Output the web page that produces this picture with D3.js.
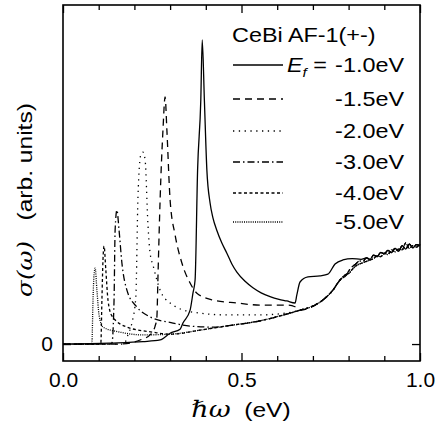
<!DOCTYPE html>
<head>
	<meta charset="utf-8">
	<script src="https://d3js.org/d3.v7.min.js"></script>
	<style>
		body { margin: 0; background: #fff; }
		text { font-family: "Liberation Sans", Arial, sans-serif; fill: #000; }
	</style>
</head>
<body>
	<svg id="chart" width="435" height="432"></svg>
	<script>

	// ---- data (x in eV, sigma in arb. units) ----
	// shared noisy high-energy tails
	var tailA = [[0.80,2.15],[0.81,2.28],[0.82,2.36],[0.83,2.45],[0.84,2.44],[0.85,2.54],[0.86,2.50],[0.87,2.62],[0.88,2.58],[0.89,2.70],[0.90,2.66],[0.91,2.76],[0.92,2.70],[0.93,2.82],[0.94,2.74],[0.95,2.90],[0.96,2.80],[0.97,2.95],[0.98,2.84],[0.99,2.93],[1.00,2.90]];
	var tailB = [[0.80,2.08],[0.81,2.20],[0.82,2.30],[0.83,2.36],[0.84,2.40],[0.85,2.44],[0.86,2.48],[0.87,2.52],[0.88,2.60],[0.89,2.58],[0.90,2.68],[0.91,2.64],[0.92,2.78],[0.93,2.72],[0.94,2.80],[0.95,2.78],[0.96,2.98],[0.97,2.82],[0.98,2.90],[0.99,2.86],[1.00,2.95]];
	// common background after the peaks have merged
	var background = [[0.30,0.29],[0.384,0.41],[0.42,0.47],[0.476,0.56],[0.55,0.68],[0.608,0.83],[0.664,1.00],[0.706,1.15],[0.728,1.30],[0.756,1.59],[0.776,1.89],[0.796,2.07]];

	var ef10 = [[0,0],[0.13,0.03],[0.224,0.07],[0.272,0.12],[0.30,0.32],[0.328,0.44],[0.336,0.62],[0.356,1.00],[0.364,1.50],[0.370,1.89],[0.377,5.13],[0.386,7.20],[0.390,8.97],[0.396,7.20],[0.403,5.13],[0.412,4.16],[0.420,3.72],[0.431,3.35],[0.445,2.98],[0.459,2.68],[0.473,2.36],[0.487,2.12],[0.510,1.85],[0.532,1.66],[0.555,1.51],[0.580,1.40],[0.605,1.32],[0.627,1.27],[0.650,1.21],[0.655,1.45],[0.664,1.83],[0.686,1.98],[0.720,2.01],[0.742,2.06],[0.762,2.36],[0.784,2.48],[0.810,2.52],[0.835,2.50]];
	var ef15 = [[0,0],[0.16,0],[0.216,0.12],[0.244,0.27],[0.258,0.53],[0.263,0.80],[0.266,1.98],[0.272,4.25],[0.280,6.31],[0.286,7.29],[0.291,6.31],[0.300,4.25],[0.314,3.22],[0.333,2.39],[0.356,1.80],[0.375,1.50],[0.420,1.30],[0.487,1.21],[0.552,1.15],[0.627,1.15],[0.650,1.10]];
	var ef20 = [[0,0],[0.17,0],[0.182,0.27],[0.193,0.62],[0.204,1.39],[0.210,4.34],[0.218,5.58],[0.224,5.66],[0.230,5.43],[0.238,3.51],[0.244,2.68],[0.252,2.33],[0.272,1.59],[0.300,1.21],[0.364,0.94],[0.459,0.86],[0.552,0.86],[0.622,0.91],[0.664,1.00]];
	var ef30 = [[0,0],[0.13,0],[0.137,0.03],[0.143,1.30],[0.146,3.36],[0.151,3.95],[0.157,3.36],[0.165,2.39],[0.179,1.59],[0.207,1.09],[0.244,0.80],[0.308,0.62],[0.356,0.53],[0.42,0.50]];
	var ef40 = [[0,0],[0.098,0],[0.106,0.03],[0.109,1.30],[0.112,2.48],[0.115,2.89],[0.120,2.18],[0.126,1.30],[0.137,0.83],[0.179,0.50],[0.252,0.35],[0.30,0.29]];
	var ef50 = [[0,0],[0.075,0],[0.081,0.03],[0.084,1.30],[0.087,2.04],[0.090,2.24],[0.095,1.59],[0.101,0.86],[0.112,0.50],[0.160,0.35],[0.224,0.27],[0.30,0.29]];

	var labels = ["-1.0eV", "-1.5eV", "-2.0eV", "-3.0eV", "-4.0eV", "-5.0eV"];
	var dashes = [null, "7,5", "1.3,4.5", "7,3,1.5,3", "3,2.5", "1,1.2"];
	var xMajor = [0, 0.5, 1.0];
	var xMinor = [0.1, 0.2, 0.3, 0.4, 0.6, 0.7, 0.8, 0.9];

	var series = [
		ef10.concat(tailA.filter(function(p){ return p[0] > 0.84; })),
		ef15.concat(background.filter(function(p){ return p[0] > 0.66; }), tailA),
		ef20.concat(background.filter(function(p){ return p[0] > 0.67; }), tailB),
		ef30.concat(background.filter(function(p){ return p[0] > 0.43; }), tailA),
		ef40.concat(background.filter(function(p){ return p[0] > 0.31; }), tailB),
		ef50.concat(background.filter(function(p){ return p[0] > 0.31; }), tailB)
	];

	// ---- layout ----
	var svg = d3.select("#chart");
	var plotL = 63, plotR = 420, plotT = 5, plotB = 361;
	var stretch = 1.17; // the original lettering is wider than Liberation Sans

	var x = d3.scaleLinear().domain([0, 1]).range([plotL, plotR]);
	var y = d3.scaleLinear().domain([-0.5, 10]).range([plotB, plotT]);

	var line = d3.line()
		.curve(d3.curveMonotoneX)
		.x(function(d) { return x(d[0]); })
		.y(function(d) { return y(d[1]); });

	svg.append("g").selectAll("path")
		.data(series)
		.enter()
		.append("path")
		.attr("d", line)
		.attr("fill", "none")
		.attr("stroke", "#000")
		.attr("stroke-width", 1.3)
		.attr("stroke-dasharray", function(d, i) { return dashes[i]; });

	// frame
	svg.append("rect")
		.attr("x", plotL).attr("y", plotT)
		.attr("width", plotR - plotL).attr("height", plotB - plotT)
		.attr("fill", "none").attr("stroke", "#000").attr("stroke-width", 1.6);

	// axes (ticks pointing inward)
	function tidy(g) {
		g.select(".domain").remove();
		g.selectAll("line").attr("stroke-width", 1.3);
		g.selectAll("text").attr("font-family", null).style("font-size", "21px");
	}

	svg.append("g").attr("transform", "translate(0," + plotB + ")")
		.call(d3.axisBottom(x).tickValues(xMajor).tickSize(-8).tickPadding(11).tickFormat(d3.format(".1f")))
		.call(tidy);
	svg.append("g").attr("transform", "translate(0," + plotB + ")")
		.call(d3.axisBottom(x).tickValues(xMinor).tickSize(-5).tickFormat(""))
		.call(tidy);
	svg.append("g").attr("transform", "translate(0," + plotT + ")")
		.call(d3.axisTop(x).tickValues(xMajor).tickSize(-8).tickFormat(""))
		.call(tidy);
	svg.append("g").attr("transform", "translate(0," + plotT + ")")
		.call(d3.axisTop(x).tickValues(xMinor).tickSize(-5).tickFormat(""))
		.call(tidy);
	svg.append("g").attr("transform", "translate(" + plotL + ",0)")
		.call(d3.axisLeft(y).tickValues([0]).tickSize(-8).tickPadding(10).tickFormat(d3.format("d")))
		.call(tidy);
	svg.append("g").attr("transform", "translate(" + plotR + ",0)")
		.call(d3.axisRight(y).tickValues([0]).tickSize(-8).tickFormat(""))
		.call(tidy);

	// axis titles
	var xt = svg.append("g")
		.attr("transform", "translate(241,417) scale(" + stretch + ",1)")
		.append("text")
		.attr("text-anchor", "middle")
		.style("font-size", "21px");
	xt.append("tspan").style("font-family", "'DejaVu Serif', serif").style("font-style", "italic").style("font-size", "23px").text("ℏω");
	xt.append("tspan").text("\u00a0\u00a0(eV)");

	var yt = svg.append("g")
		.attr("transform", "translate(32,200) rotate(-90) scale(" + stretch + ",1)")
		.append("text")
		.attr("text-anchor", "middle")
		.style("font-size", "21px");
	yt.append("tspan").style("font-family", "'DejaVu Serif', serif").style("font-style", "italic").text("σ(ω)");
	yt.append("tspan").text("\u00a0\u00a0\u00a0(arb. units)");

	// legend
	var legend = svg.append("g");
	legend.append("g")
		.attr("transform", "translate(232,42) scale(" + stretch + ",1)")
		.append("text")
		.style("font-size", "20px")
		.text("CeBi AF-1(+-)");

	var rowY = [65, 99, 131, 162, 193, 222];
	labels.forEach(function(lab, i) {
		legend.append("line")
			.attr("x1", 233).attr("x2", 283)
			.attr("y1", rowY[i]).attr("y2", rowY[i])
			.attr("stroke", "#000").attr("stroke-width", 1.3)
			.attr("stroke-dasharray", dashes[i]);
		legend.append("g")
			.attr("transform", "translate(404," + (rowY[i] + 7) + ") scale(" + stretch + ",1)")
			.append("text")
			.attr("text-anchor", "end")
			.style("font-size", "20px")
			.text(lab);
	});
	var ef = legend.append("g")
		.attr("transform", "translate(287," + (rowY[0] + 7) + ") scale(" + stretch + ",1)")
		.append("text")
		.style("font-size", "20px");
	ef.append("tspan").style("font-style", "italic").text("E");
	ef.append("tspan").attr("dy", 5).style("font-size", "13px").style("font-style", "italic").text("f");
	ef.append("tspan").attr("dy", -5).text(" =");

</script>
</body>
</html>
